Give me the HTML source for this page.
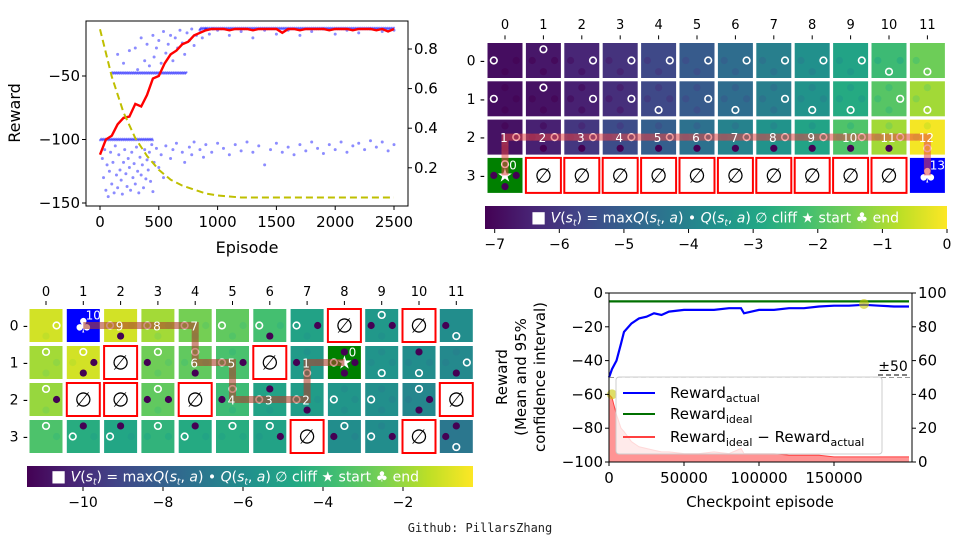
<!DOCTYPE html>
<html><head><meta charset="utf-8"><style>
html,body{margin:0;padding:0;background:#fff;width:960px;height:540px;overflow:hidden}
svg{font-family:"DejaVu Sans","Liberation Sans",sans-serif}
</style></head><body>
<svg id="fig" width="960" height="540" viewBox="0 0 960 540" xmlns="http://www.w3.org/2000/svg">
<defs>
<linearGradient id="vir" x1="0" x2="1" y1="0" y2="0">
<stop offset="0" stop-color="#440154"/><stop offset="0.1" stop-color="#482475"/><stop offset="0.2" stop-color="#414487"/><stop offset="0.3" stop-color="#355f8d"/><stop offset="0.4" stop-color="#2a788e"/><stop offset="0.5" stop-color="#21918c"/><stop offset="0.6" stop-color="#22a884"/><stop offset="0.7" stop-color="#44bf70"/><stop offset="0.8" stop-color="#7ad151"/><stop offset="0.9" stop-color="#bddf26"/><stop offset="1" stop-color="#fde725"/>
</linearGradient>
</defs>
<text x="480" y="532" text-anchor="middle" font-size="12" font-family="DejaVu Sans Mono, Liberation Mono, monospace" fill="#222">Github: PillarsZhang</text>
</svg>
<script>
// ---------- DATA: chart 1 (training reward) ----------
const epRedStep = 50;
const redReward = [-112,-100,-97,-88,-83,-82,-72,-74,-65,-52,-50,-40,-33,-30,-25,-23,-18,-16,-14,-13,-13,-13,-14,-13,-13,-13,-14,-13,-13,-13,-13,-16,-13,-13,-14,-13,-13,-13,-13,-14,-13,-13,-13,-14,-13,-13,-13,-14,-13,-15,-13];
const epsStep = 100;
const epsilon = [0.9,0.66,0.48,0.35,0.26,0.19,0.14,0.11,0.09,0.07,0.06,0.055,0.05,0.05,0.05,0.05,0.05,0.05,0.05,0.05,0.05,0.05,0.05,0.05,0.05,0.05];
const scatterPts = [[20,-115],[30,-130],[40,-108],[50,-140],[60,-120],[70,-145],[80,-125],[90,-110],[100,-135],[110,-118],[120,-142],[130,-105],[140,-128],[150,-138],[160,-112],[170,-124],[180,-132],[190,-143],[200,-118],[210,-108],[220,-127],[230,-137],[240,-115],[250,-122],[260,-140],[270,-110],[280,-130],[290,-119],[300,-135],[310,-106],[320,-125],[330,-142],[340,-114],[350,-128],[360,-120],[370,-138],[380,-108],[390,-131],[400,-116],[410,-124],[420,-110],[430,-133],[440,-104],[450,-141],[460,-118],[480,-107],[500,-122],[520,-112],[540,-130],[560,-105],[600,-115],[620,-108],[650,-103],[700,-110],[720,-118],[760,-106],[780,-112],[800,-102],[850,-108],[880,-114],[900,-104],[950,-110],[1000,-103],[1050,-107],[1100,-112],[1150,-104],[1200,-109],[1250,-102],[1300,-110],[1350,-105],[1400,-120],[1450,-108],[1500,-103],[1550,-110],[1600,-106],[1650,-112],[1700,-104],[1750,-109],[1800,-102],[1850,-107],[1900,-111],[1950,-104],[2000,-108],[2050,-102],[2100,-110],[2150,-105],[2200,-103],[2250,-108],[2300,-101],[2350,-106],[2400,-102],[2450,-109],[2500,-104],
[150,-33],[200,-40],[250,-30],[300,-28],[320,-45],[350,-20],[380,-38],[400,-25],[420,-42],[450,-18],[460,-35],[480,-28],[500,-22],[520,-40],[540,-15],[560,-32],[580,-25],[600,-18],[620,-38],[640,-20],[660,-28],[680,-14],[700,-24],[720,-33],[740,-16],[760,-22],[780,-13],[800,-26],[820,-18],[850,-14],[870,-20],[900,-13],[930,-17],[960,-13],[1000,-14],[1100,-18],[1200,-15],[1300,-20],[1400,-14],[1500,-17],[1600,-14],[1700,-18],[1800,-15],[1900,-13],[2000,-17],[2100,-14],[2200,-16],[2300,-13],[2400,-15],[2500,-14]];
const bandRewards = [-48,-100,-13];
const bandStart = [100,0,850];
const bandEnd = [740,450,2500];
const c1XTicks = [0,500,1000,1500,2000,2500];
const c1YTicks = [-50,-100,-150];
const c1RTicks = [0.2,0.4,0.6,0.8];

// ---------- DATA: top grid (cliff walking) ----------
const topKind = ["............","............","............","SCCCCCCCCCCE"];
const topV = [[-6.9,-6.7,-6.4,-6.1,-5.6,-5.1,-4.6,-4.1,-3.6,-3.0,-2.3,-1.6],
              [-6.9,-6.8,-6.5,-6.2,-5.6,-5.1,-4.6,-4.1,-3.5,-2.8,-1.9,-1.0],
              [-6.8,-6.5,-6.0,-5.5,-5.0,-4.5,-4.0,-3.5,-3.0,-2.0,-1.0,-0.1],
              [0,0,0,0,0,0,0,0,0,0,0,0]];
const topBest = ["lurrrrrrrrdd","lurrdrdrddrd","rrrrrrrrrrrd","u..........."];
const topPath = [[3,0],[2,0],[2,11],[3,11]];
const topLabels = [[3,0,0],[2,0,1],[2,1,2],[2,2,3],[2,3,4],[2,4,5],[2,5,6],[2,6,7],[2,7,8],[2,8,9],[2,9,10],[2,10,11],[2,11,12],[3,11,13]];
const topCbTicks = [-7,-6,-5,-4,-3,-2,-1,0];

// ---------- DATA: bottom grid ----------
const botKind = [".E......C.C.","..C...C.S...",".CC.C......C",".......C..C."];
const botV = [[-1.0,0,-1.0,-1.8,-2.6,-3.0,-3.6,-5.0,0,-5.5,0,-6.0],
              [-1.8,-1.0,0,-2.7,-3.0,-3.5,0,-5.4,0,-5.7,-6.0,-6.2],
              [-2.0,0,0,-3.0,0,-3.8,-5.0,-5.3,-5.6,-5.9,-6.3,0],
              [-3.4,-4.5,-4.8,-4.2,-4.6,-4.5,-5.0,0,-6.0,-6.0,0,-7.0]];
const botBest = ["r.lllllllu.d","uu.uul.dlddr","u..u.ullllu.","ulluluu.ul.d"];
const botPath = [[1,8],[1,7],[2,7],[2,5],[1,5],[1,4],[0,4],[0,1]];
const botLabels = [[1,8,0],[1,7,1],[2,7,2],[2,6,3],[2,5,4],[1,5,5],[1,4,6],[0,4,7],[0,3,8],[0,2,9],[0,1,10]];
const botCbTicks = [-10,-8,-6,-4,-2];

// ---------- DATA: chart 4 (checkpoint evaluation) ----------
const ckX = [0,2000,5000,8000,10000,15000,20000,25000,30000,35000,40000,50000,60000,70000,80000,88000,90000,100000,110000,120000,130000,140000,150000,160000,170000,180000,190000,200000];
const actual = [-50,-45,-40,-30,-23,-18,-15,-14,-12,-13,-11,-10,-10,-10,-9,-9,-12,-10,-10,-9,-9,-8,-7.5,-7.5,-7,-7.5,-8,-8];
const ideal = [-5,-5,-5,-5,-5,-5,-5,-5,-5,-5,-5,-5,-5,-5,-5,-5,-5,-5,-5,-5,-5,-5,-5,-5,-5,-5,-5,-5];
const diff = [40,38,28,20,18,12,9,8,7,6,6,5,5,6,5,8,5,5,5,4,4,4,3,3,3,3,3,3];
const c4XTicks = [0,50000,100000,150000];
const c4YTicks = [0,-20,-40,-60,-80,-100];
const c4RTicks = [0,20,40,60,80,100];

// ---------- helpers ----------
const NS="http://www.w3.org/2000/svg";
const svg=document.getElementById('fig');
function mk(tag,attrs,parent){const e=document.createElementNS(NS,tag);for(const k in attrs)e.setAttribute(k,attrs[k]);(parent||svg).appendChild(e);return e;}
function txt(x,y,s,size,anchor,parent,extra){const t=mk('text',Object.assign({x:x,y:y,'font-size':size,'text-anchor':anchor||'middle',fill:'#000'},extra||{}),parent);t.textContent=s;return t;}
const VS=[[68,1,84],[72,36,117],[65,68,135],[53,95,141],[42,120,142],[33,145,140],[34,168,132],[68,191,112],[122,209,81],[189,223,38],[253,231,37]];
function viridis(t){t=Math.max(0,Math.min(1,t));const p=t*10,i=Math.min(9,Math.floor(p)),f=p-i;const a=VS[i],b=VS[i+1];return 'rgb('+[0,1,2].map(k=>Math.round(a[k]+(b[k]-a[k])*f)).join(',')+')';}

// ---------- chart 1 ----------
(function(){
const g=mk('g',{});


const L=86,R=408,T=21,B=206;
const sx=e=>100+(e/2500)*294;
const sy=r=>76-(r+50)*1.27;
const sr=v=>49+(0.8-v)*198;
for(const p of scatterPts){const c=mk('circle',{cx:sx(p[0]),cy:sy(p[1]),r:1.5,fill:'rgba(0,0,255,0.45)'},g);}
for(let b=0;b<bandRewards.length;b++){for(let e=bandStart[b];e<=bandEnd[b];e+=6){const c=mk('circle',{cx:sx(e),cy:sy(bandRewards[b]+((e/6)%3-1)*0.6),r:1.1,fill:'rgba(0,0,255,0.4)'},g);}}
let d='';redReward.forEach((v,i)=>{d+=(i?'L':'M')+sx(i*epRedStep).toFixed(1)+' '+sy(v).toFixed(1);});
const rl=mk('path',{d:d,fill:'none',stroke:'#ff0000','stroke-width':2.4},g);

d='';epsilon.forEach((v,i)=>{d+=(i?'L':'M')+sx(i*epsStep).toFixed(1)+' '+sr(v).toFixed(1);});
const el=mk('path',{d:d,fill:'none',stroke:'#bfbf00','stroke-width':2,'stroke-dasharray':'7,4'},g);

const fr=mk('rect',{x:L,y:T,width:R-L,height:B-T,fill:'none',stroke:'#000','stroke-width':1},g);

for(const t of c1XTicks){mk('line',{x1:sx(t),x2:sx(t),y1:B,y2:B+4,stroke:'#000'},g);const l=txt(sx(t),B+21,String(t),15,'middle',g);}
for(const t of c1YTicks){mk('line',{x1:L-4,x2:L,y1:sy(t),y2:sy(t),stroke:'#000'},g);const l=txt(L-6,sy(t)+5,'\u2212'+Math.abs(t),15,'end',g);}
for(const t of c1RTicks){mk('line',{x1:R,x2:R+4,y1:sr(t),y2:sr(t),stroke:'#000'},g);const l=txt(R+6,sr(t)+5,t.toFixed(1),15,'start',g);}
const xt=txt(247,253,'Episode',16,'middle',g);
const yt=txt(0,0,'Reward',16,'middle',g,{transform:'translate(20,113) rotate(-90)'});
})();

// ---------- grids ----------
function drawGrid(cfg){
const g=mk('g',{});


const cx=c=>cfg.x0+c*cfg.dx, cy=r=>cfg.y0+r*cfg.dy, h=cfg.cell/2;
const norm=v=>(v-cfg.vmin)/(cfg.vmax-cfg.vmin);
const off=cfg.cell*0.32;
const dirs={u:[0,-1],d:[0,1],l:[-1,0],r:[1,0]};
for(let r=0;r<4;r++)for(let c=0;c<12;c++){
 const k=cfg.kind[r][c],X=cx(c),Y=cy(r);
 if(k==='C'){
  const b=mk('rect',{x:X-h,y:Y-h,width:cfg.cell,height:cfg.cell,fill:'#fff',stroke:'#ff0000','stroke-width':2},g);
  
  txt(X,Y+7,'\u2205',20,'middle',g);
  continue;}
 const fill=k==='S'?'#008000':k==='E'?'#0000ff':viridis(norm(cfg.V[r][c]));
 const cell=mk('rect',{x:X-h,y:Y-h,width:cfg.cell,height:cfg.cell,fill:fill},g);
 
 
 if(k==='E'){txt(X,Y+7,'\u2663',20,'middle',g,{fill:'#fff'});continue;}
 for(const dk in dirs){
  const [ddx,ddy]=dirs[dk];const nr=r+ddy,nc=c+ddx;
  const px=X+ddx*off,py=Y+ddy*off;
  const best=cfg.best[r][c]===dk;
  const toCliff=nr>=0&&nr<4&&nc>=0&&nc<12&&cfg.kind[nr][nc]==='C';
  const out=nr<0||nr>3||nc<0||nc>11;
  if(best){const q=mk('circle',{cx:px,cy:py,r:3.3,fill:fill,stroke:'#fff','stroke-width':1.6},g);}
  else if(toCliff||k==='S'){const q=mk('circle',{cx:px,cy:py,r:3.6,fill:'#440154'},g);}
  else if(!out&&k!=='S'){const q=mk('circle',{cx:px,cy:py,r:3.6,fill:viridis(norm(cfg.V[r][c]-0.5)),opacity:0.6},g);}
 }
 if(k==='S'){txt(X,Y+6,'\u2605',18,'middle',g,{fill:'#fff'});}
}
let d='';cfg.path.forEach((p,i)=>{d+=(i?'L':'M')+cx(p[1])+' '+cy(p[0]);});
const pl=mk('path',{d:d,fill:'none',stroke:cfg.pathColor,'stroke-width':7,'stroke-linejoin':'miter'},g);

for(const l of cfg.labels){const s=l[2]===0?[8,-6]:(l[2]===cfg.labels.length-1?[10,-6]:[-1,5]);const t=txt(cx(l[1])+s[0],cy(l[0])+s[1],String(l[2]),12,'middle',g,{fill:'#fff'});}
for(let c=0;c<12;c++){mk('line',{x1:cx(c),x2:cx(c),y1:cfg.y0-cfg.dy/2-6,y2:cfg.y0-cfg.dy/2-2,stroke:'#000'},g);const t=txt(cx(c),cfg.colLabelY,String(c),13,'middle',g);}
for(let r=0;r<4;r++){const t=txt(cfg.rowLabelX,cy(r)+5,r+' -',14,'end',g);}
// colorbar
const cb=mk('rect',{x:cfg.cbX,y:cfg.cbY,width:cfg.cbW,height:cfg.cbH,fill:'url(#vir)'},g);

const cbv=v=>cfg.cbX+(v-cfg.vmin)/(cfg.vmax-cfg.vmin)*cfg.cbW;
for(const t of cfg.cbTicks){mk('line',{x1:cbv(t),x2:cbv(t),y1:cfg.cbY+cfg.cbH,y2:cfg.cbY+cfg.cbH+4,stroke:'#000'},g);const l=txt(cbv(t),cfg.cbY+cfg.cbH+20,(t<0?'\u2212':'')+Math.abs(t),14,'middle',g);}
const lg=mk('text',{x:cfg.cbTextX,y:cfg.cbY+cfg.cbH/2+5,'font-size':14,'text-anchor':'middle',fill:'#fff','xml:space':'preserve'},g);

lg.innerHTML='<tspan font-size="16">\u25A0</tspan> <tspan font-style="italic">V</tspan>(<tspan font-style="italic">s</tspan><tspan font-size="9" dy="3" font-style="italic">t</tspan><tspan dy="-3">) = max</tspan><tspan font-style="italic">Q</tspan>(<tspan font-style="italic">s</tspan><tspan font-size="9" dy="3" font-style="italic">t</tspan><tspan dy="-3">, </tspan><tspan font-style="italic">a</tspan>)   \u2022 <tspan font-style="italic">Q</tspan>(<tspan font-style="italic">s</tspan><tspan font-size="9" dy="3" font-style="italic">t</tspan><tspan dy="-3">, </tspan><tspan font-style="italic">a</tspan>)   \u2205 cliff   \u2605 start   \u2663 end';
}
drawGrid({name:'top-cliff-grid',x0:505,dx:38.4,y0:60.5,dy:38.3,cell:35,kind:topKind,V:topV,best:topBest,path:topPath,labels:topLabels,vmin:-7.15,vmax:0,pathColor:'rgba(230,70,70,0.55)',colLabelY:29,rowLabelX:485,cbX:485,cbY:206,cbW:462,cbH:23,cbTicks:topCbTicks,cbTextX:715});
drawGrid({name:'bottom-maze-grid',x0:46,dx:37.3,y0:325.5,dy:37,cell:33,kind:botKind,V:botV,best:botBest,path:botPath,labels:botLabels,vmin:-11.4,vmax:-0.25,pathColor:'rgba(175,65,45,0.6)',colLabelY:296,rowLabelX:28,cbX:27,cbY:466,cbW:446,cbH:21,cbTicks:botCbTicks,cbTextX:235});

// ---------- chart 4 ----------
(function(){
const g=mk('g',{});


const L=609,R=912,T=293,B=462;
const sx=e=>L+e/50000*75;
const sy=v=>T-v*1.69;
const sr=v=>B-v*1.69;
let d='M'+sx(ckX[0])+' '+sr(0);ckX.forEach((x,i)=>{d+='L'+sx(x).toFixed(1)+' '+sr(diff[i]).toFixed(1);});d+='L'+sx(ckX[ckX.length-1])+' '+sr(0)+'Z';
const ar=mk('path',{d:d,fill:'rgba(255,60,60,0.55)',stroke:'none'},g);
const line=(arr,sc,col,name,w)=>{let p='';ckX.forEach((x,i)=>{p+=(i?'L':'M')+sx(x).toFixed(1)+' '+sc(arr[i]).toFixed(1);});const e=mk('path',{d:p,fill:'none',stroke:col,'stroke-width':w},g);};
line(diff,sr,'#ff4040','gap-line',1);
line(ideal,sy,'#007000','ideal-reward-line',2.2);
line(actual,sy,'#0000ff','actual-reward-line',2.2);
const y1=mk('circle',{cx:sx(2000),cy:sr(40),r:5,fill:'rgba(200,200,0,0.6)'},g);
const y2=mk('circle',{cx:sx(170000),cy:sy(-6.5),r:5,fill:'rgba(200,200,0,0.6)'},g);
const dl=mk('line',{x1:L,x2:R,y1:sr(50),y2:sr(50),stroke:'#999','stroke-dasharray':'5,3'},g);
const pm=txt(893,371,'\u00B150',14,'middle',g);
mk('line',{x1:878,x2:908,y1:375,y2:375,stroke:'#000','stroke-dasharray':'5,3'},g);
const fr=mk('rect',{x:L,y:T,width:R-L,height:B-T,fill:'none',stroke:'#000'},g);
for(const t of c4XTicks){mk('line',{x1:sx(t),x2:sx(t),y1:B,y2:B+4,stroke:'#000'},g);const l=txt(sx(t),B+21,String(t),15,'middle',g);}
for(const t of c4YTicks){mk('line',{x1:L-4,x2:L,y1:sy(t),y2:sy(t),stroke:'#000'},g);const l=txt(L-6,sy(t)+5,(t<0?'\u2212':'')+Math.abs(t),15,'end',g);}
for(const t of c4RTicks){mk('line',{x1:R,x2:R+4,y1:sr(t),y2:sr(t),stroke:'#000'},g);const l=txt(R+6,sr(t)+5,String(t),15,'start',g);}
const lb=mk('rect',{x:616,y:377,width:266,height:77,rx:3,fill:'rgba(255,255,255,0.8)',stroke:'#ccc'},g);
const ents=[['#0000ff','actual',null,393],['#007000','ideal',null,414],['#ff4040','ideal','actual',437]];
for(const e of ents){mk('line',{x1:623,x2:655,y1:e[3],y2:e[3],stroke:e[0],'stroke-width':2},g);
 const t=mk('text',{x:670,y:e[3]+5,'font-size':15,fill:'#000'},g);
 
 t.innerHTML='Reward<tspan font-size="11" dy="4">'+e[1]+'</tspan>'+(e[2]?'<tspan dy="-4"> \u2212 Reward</tspan><tspan font-size="11" dy="4">'+e[2]+'</tspan>':'');}
const xt=txt(760,507,'Checkpoint episode',15,'middle',g);
const yt=mk('text',{'font-size':15,'text-anchor':'middle',fill:'#000',transform:'translate(526,377) rotate(-90)'},g);

yt.innerHTML='<tspan x="0" dy="-19">Reward</tspan><tspan x="0" dy="19">(Mean and 95%</tspan><tspan x="0" dy="19">confidence interval)</tspan>';
})();
</script>
</body></html>
